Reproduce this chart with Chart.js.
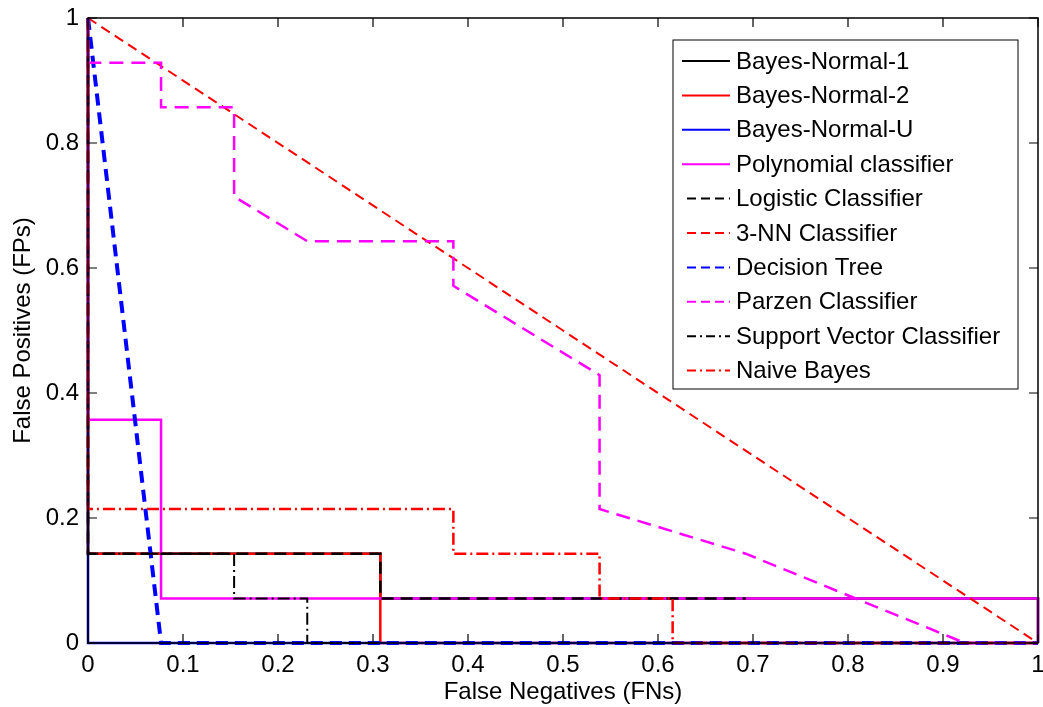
<!DOCTYPE html>
<html>
<head>
<meta charset="utf-8">
<script src="https://cdn.jsdelivr.net/npm/chart.js@4.4.1/dist/chart.umd.min.js"></script>
<style>
  html, body { margin: 0; padding: 0; background: #fff; }
  #wrap { width: 1043px; height: 707px; }
</style>
</head>
<body>
<div id="wrap"><canvas id="roc"></canvas></div>
<script>
const seriesLabels = [
    'Bayes-Normal-1', 'Bayes-Normal-2', 'Bayes-Normal-U', 'Polynomial classifier',
    'Logistic Classifier', '3-NN Classifier', 'Decision Tree', 'Parzen Classifier',
    'Support Vector Classifier', 'Naive Bayes'
];

// false negatives (x) / false positives (y) for each classifier
const bayes1X = [0, 0, 0.3077, 0.3077, 1, 1];
const bayes1Y = [1, 0.1429, 0.1429, 0.0714, 0.0714, 0];
const bayes2X = [0, 0, 0.3077, 0.3077, 1];
const bayes2Y = [1, 0.1429, 0.1429, 0, 0];
const bayesUX = [0, 0, 1];
const bayesUY = [1, 0, 0];
const polyX = [0, 0, 0.0769, 0.0769, 1, 1];
const polyY = [1, 0.3571, 0.3571, 0.0714, 0.0714, 0];
const logX = [0, 0, 0.3077, 0.3077, 0.6923];
const logY = [1, 0.1429, 0.1429, 0.0714, 0.0714];
const knnX = [0, 1];
const knnY = [1, 0];
const treeX = [0, 0.0769, 1];
const treeY = [1, 0, 0];
const parzenX = [0, 0, 0.0769, 0.0769, 0.1538, 0.1538, 0.2308, 0.3846, 0.3846, 0.5385, 0.5385, 0.6923, 0.9231, 1];
const parzenY = [1, 0.9286, 0.9286, 0.8571, 0.8571, 0.7143, 0.6429, 0.6429, 0.5714, 0.4286, 0.2143, 0.1429, 0, 0];
const svcX = [0, 0, 0.1538, 0.1538, 0.2308, 0.2308, 0.3077];
const svcY = [1, 0.1429, 0.1429, 0.0714, 0.0714, 0, 0];
const nbX = [0, 0, 0.3846, 0.3846, 0.5385, 0.5385, 0.6154, 0.6154, 1];
const nbY = [1, 0.2143, 0.2143, 0.1429, 0.1429, 0.0714, 0.0714, 0, 0];

const xTicks = [0, 0.1, 0.2, 0.3, 0.4, 0.5, 0.6, 0.7, 0.8, 0.9, 1];
const xTickLabels = ['0', '0.1', '0.2', '0.3', '0.4', '0.5', '0.6', '0.7', '0.8', '0.9', '1'];
const yTicks = [0, 0.2, 0.4, 0.6, 0.8, 1];
const yTickLabels = ['0', '0.2', '0.4', '0.6', '0.8', '1'];

const allX = [bayes1X, bayes2X, bayesUX, polyX, logX, knnX, treeX, parzenX, svcX, nbX];
const allY = [bayes1Y, bayes2Y, bayesUY, polyY, logY, knnY, treeY, parzenY, svcY, nbY];

const colors = ['#000000', '#ff0000', '#0000ff', '#ff00ff', '#000000', '#ff0000', '#0000ff', '#ff00ff', '#000000', '#ff0000'];
const dashes = [[], [], [], [], [12, 7], [10, 6], [12, 7], [14, 8], [12, 4, 2, 4], [12, 4, 2, 4]];
const widths = [2.5, 2.5, 2.5, 2.5, 2.5, 2, 4, 2.5, 2, 2.5];

const FONT = '"Liberation Sans", Arial, Helvetica, sans-serif';

const datasets = seriesLabels.map((label, i) => ({
    label,
    data: allX[i].map((x, j) => ({ x, y: allY[i][j] })),
    showLine: true,
    borderColor: colors[i],
    backgroundColor: colors[i],
    borderWidth: widths[i],
    borderDash: dashes[i],
    pointRadius: 0,
    fill: false,
    tension: 0,
    clip: false,
    order: seriesLabels.length - i
}));

// matlab style box with inward ticks on all four sides
const boxPlugin = {
    id: 'box',
    afterDraw(chart) {
        const { ctx, chartArea: a, scales } = chart;
        ctx.save();
        ctx.strokeStyle = '#000';
        ctx.lineWidth = 1.2;
        scales.x.ticks.forEach(t => {
            const px = scales.x.getPixelForValue(t.value);
            ctx.beginPath();
            ctx.moveTo(px, a.bottom); ctx.lineTo(px, a.bottom - 9);
            ctx.moveTo(px, a.top); ctx.lineTo(px, a.top + 9);
            ctx.stroke();
        });
        scales.y.ticks.forEach(t => {
            const py = scales.y.getPixelForValue(t.value);
            ctx.beginPath();
            ctx.moveTo(a.left, py); ctx.lineTo(a.left + 9, py);
            ctx.moveTo(a.right, py); ctx.lineTo(a.right - 9, py);
            ctx.stroke();
        });
        ctx.lineWidth = 1.5;
        ctx.strokeRect(a.left, a.top, a.right - a.left, a.bottom - a.top);
        ctx.restore();
    }
};

const legendPlugin = {
    id: 'boxLegend',
    afterDraw(chart) {
        const { ctx, chartArea: a } = chart;
        const left = a.right - 365, top = a.top + 22, w = 345, h = 349;
        const rowH = 34.4;
        ctx.save();
        ctx.fillStyle = '#fff';
        ctx.fillRect(left, top, w, h);
        ctx.strokeStyle = '#000';
        ctx.lineWidth = 1;
        ctx.strokeRect(left, top, w, h);
        ctx.font = '24px ' + FONT;
        ctx.textBaseline = 'middle';
        seriesLabels.forEach((label, i) => {
            const y = top + 21 + i * rowH;
            ctx.strokeStyle = colors[i];
            ctx.lineWidth = 2;
            ctx.setLineDash(dashes[i].length ? [9, 5] : []);
            if (dashes[i].length === 4) ctx.setLineDash([9, 4, 2, 4]);
            ctx.beginPath();
            ctx.moveTo(dashes[i].length ? left + 14 : left + 9, y);
            ctx.lineTo(left + 57, y);
            ctx.stroke();
            ctx.setLineDash([]);
            ctx.fillStyle = '#000';
            ctx.fillText(label, left + 63, y + 1);
        });
        ctx.restore();
    }
};

new Chart(document.getElementById('roc'), {
    type: 'scatter',
    data: { datasets },
    options: {
        responsive: true,
        maintainAspectRatio: false,
        animation: false,
        layout: { padding: { top: 18, right: 5, left: 0, bottom: 0 } },
        plugins: { legend: { display: false }, tooltip: { enabled: false } },
        scales: {
            x: {
                type: 'linear', min: 0, max: 1,
                afterBuildTicks: s => { s.ticks = xTicks.map(v => ({ value: v })); },
                afterFit: s => { s.height = 64; s.paddingLeft = 0; s.paddingRight = 0; },
                grid: { display: false, drawTicks: false },
                border: { display: false },
                ticks: {
                    color: '#000', padding: 8, maxRotation: 0, autoSkip: false,
                    font: { family: FONT, size: 24 },
                    callback: (v, i) => xTickLabels[i]
                },
                title: {
                    display: true, text: 'False Negatives (FNs)', color: '#000',
                    font: { family: FONT, size: 24 }, padding: { top: 0, bottom: 0 }
                }
            },
            y: {
                type: 'linear', min: 0, max: 1,
                afterBuildTicks: s => { s.ticks = yTicks.map(v => ({ value: v })); },
                afterFit: s => { s.width = 88; s.paddingTop = 0; s.paddingBottom = 0; },
                grid: { display: false, drawTicks: false },
                border: { display: false },
                ticks: {
                    color: '#000', padding: 9, autoSkip: false,
                    font: { family: FONT, size: 24 },
                    callback: (v, i) => yTickLabels[i]
                },
                title: {
                    display: true, text: 'False Positives (FPs)', color: '#000',
                    font: { family: FONT, size: 24 }, padding: { top: 9, bottom: 0 }
                }
            }
        }
    },
    plugins: [boxPlugin, legendPlugin]
});
</script>
</body>
</html>
